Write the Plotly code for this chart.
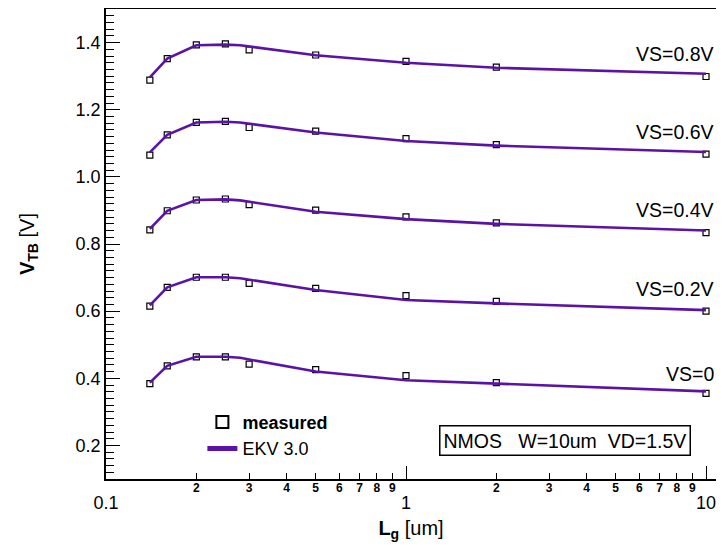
import plotly.graph_objects as go

# ---- data ----
L_meas = [0.14, 0.16, 0.2, 0.25, 0.3, 0.5, 1, 2, 10]
meas_vs08 = [1.288, 1.352, 1.393, 1.396, 1.378, 1.363, 1.344, 1.327, 1.299]
meas_vs06 = [1.065, 1.125, 1.162, 1.165, 1.147, 1.136, 1.114, 1.096, 1.068]
meas_vs04 = [0.842, 0.899, 0.931, 0.934, 0.917, 0.901, 0.881, 0.863, 0.834]
meas_vs02 = [0.615, 0.671, 0.701, 0.701, 0.683, 0.668, 0.646, 0.629, 0.600]
meas_vs00 = [0.384, 0.437, 0.464, 0.464, 0.442, 0.426, 0.408, 0.387, 0.355]

L_ekv = [0.14, 0.16, 0.2, 0.25, 0.28, 0.5, 1, 2, 10]
ekv_vs08 = [1.296, 1.352, 1.392, 1.394, 1.392, 1.362, 1.340, 1.325, 1.307]
ekv_vs06 = [1.073, 1.125, 1.162, 1.164, 1.162, 1.132, 1.107, 1.093, 1.074]
ekv_vs04 = [0.845, 0.899, 0.931, 0.933, 0.930, 0.896, 0.874, 0.860, 0.840]
ekv_vs02 = [0.617, 0.671, 0.701, 0.701, 0.698, 0.663, 0.633, 0.623, 0.603]
ekv_vs00 = [0.387, 0.437, 0.464, 0.464, 0.461, 0.420, 0.394, 0.384, 0.361]

curve_labels = ["VS=0.8V", "VS=0.6V", "VS=0.4V", "VS=0.2V", "VS=0"]
label_y = [1.367, 1.135, 0.900, 0.666, 0.412]

x_major_vals = [0.1, 1, 10]
x_major_text = ["0.1", "1", "10"]
x_minor_vals = [0.2, 0.3, 0.4, 0.5, 0.6, 0.7, 0.8, 0.9, 2, 3, 4, 5, 6, 7, 8, 9]
x_minor_text = ["2", "3", "4", "5", "6", "7", "8", "9"] * 2
y_major_vals = [0.2, 0.4, 0.6, 0.8, 1.0, 1.2, 1.4]
y_major_text = ["0.2", "0.4", "0.6", "0.8", "1.0", "1.2", "1.4"]

LINE_COLOR = "#5a12a8"
FONT = "Arial, Liberation Sans, sans-serif"

meas_sets = [meas_vs08, meas_vs06, meas_vs04, meas_vs02, meas_vs00]
ekv_sets = [ekv_vs08, ekv_vs06, ekv_vs04, ekv_vs02, ekv_vs00]

fig = go.Figure()
for i, ys in enumerate(ekv_sets):
    fig.add_trace(go.Scatter(
        x=L_ekv, y=ys, mode="lines", xaxis="x2",
        line=dict(color=LINE_COLOR, width=2.6),
        name="EKV 3.0", legendgroup="ekv", showlegend=(i == 0), legendrank=2,
    ))
for i, ys in enumerate(meas_sets):
    fig.add_trace(go.Scatter(
        x=L_meas, y=ys, mode="markers",
        marker=dict(symbol="square", size=6, color="white",
                    line=dict(color="black", width=1.2)),
        name="<b>measured</b>", legendgroup="meas", showlegend=(i == 0), legendrank=1,
    ))

annotations = []
for txt, yv in zip(curve_labels, label_y):
    annotations.append(dict(
        xref="paper", yref="y", x=1, y=yv, xanchor="right", yanchor="middle",
        text=txt, showarrow=False, font=dict(family=FONT, size=19.5, color="black"),
    ))
annotations.append(dict(
    xref="paper", yref="paper", x=0.753, y=0.082, xanchor="center", yanchor="middle",
    text="NMOS\u00a0\u00a0\u00a0W=10um\u00a0\u00a0VD=1.5V", showarrow=False,
    font=dict(family=FONT, size=19.5, color="black"),
    bordercolor="black", borderwidth=1.5, borderpad=3, bgcolor="white",
))

xrange = [-1, 1.0333]

# page places the figure 8px in from the top-left; keep it inside the window
fig.update_layout(
    width=708, height=534,
    margin=dict(l=98, r=0, t=1, b=63),
    paper_bgcolor="white", plot_bgcolor="white",
    font=dict(family=FONT, color="black"),
    showlegend=True,
    legend=dict(x=0.158, y=0.16, xanchor="left", yanchor="top",
                bgcolor="rgba(0,0,0,0)", font=dict(family=FONT, size=18),
                itemsizing="constant", tracegroupgap=0),
    xaxis=dict(
        type="log", range=xrange, showgrid=False, zeroline=False,
        showline=True, linecolor="black", linewidth=1.5, mirror=True,
        ticks="inside", ticklen=13, tickwidth=1.3, tickcolor="black",
        tickvals=x_major_vals, ticktext=x_major_text,
        tickfont=dict(family=FONT, size=18),
        ticklabelstandoff=7, ticklabeloverflow="allow",
        minor=dict(ticks="inside", ticklen=6, tickwidth=1.2, tickcolor="black",
                   tickvals=x_minor_vals, showgrid=False),
        title=dict(text="<b>L</b><sub><b>g</b></sub> [um]",
                   font=dict(family=FONT, size=20), standoff=12),
    ),
    xaxis2=dict(
        type="log", range=xrange, overlaying="x", anchor="y", side="bottom",
        showgrid=False, zeroline=False, showline=False, ticks="",
        tickvals=x_minor_vals, ticktext=x_minor_text, ticklabeloverflow="allow",
        tickfont=dict(family=FONT, size=12, weight="bold"),
    ),
    yaxis=dict(
        range=[0.1, 1.5], showgrid=False, zeroline=False,
        showline=True, linecolor="black", linewidth=1.5,
        ticks="inside", ticklen=14, tickwidth=1.3, tickcolor="black",
        tickvals=y_major_vals, ticktext=y_major_text,
        tickfont=dict(family=FONT, size=18),
        minor=dict(ticks="inside", ticklen=8, tickwidth=1.1, tickcolor="black",
                   dtick=0.02, tick0=0, showgrid=False),
        title=dict(text="<b>V</b><sub><b>TB</b></sub> [V]",
                   font=dict(family=FONT, size=20), standoff=36),
    ),
    annotations=annotations,
)

fig.write_html("out.html")
